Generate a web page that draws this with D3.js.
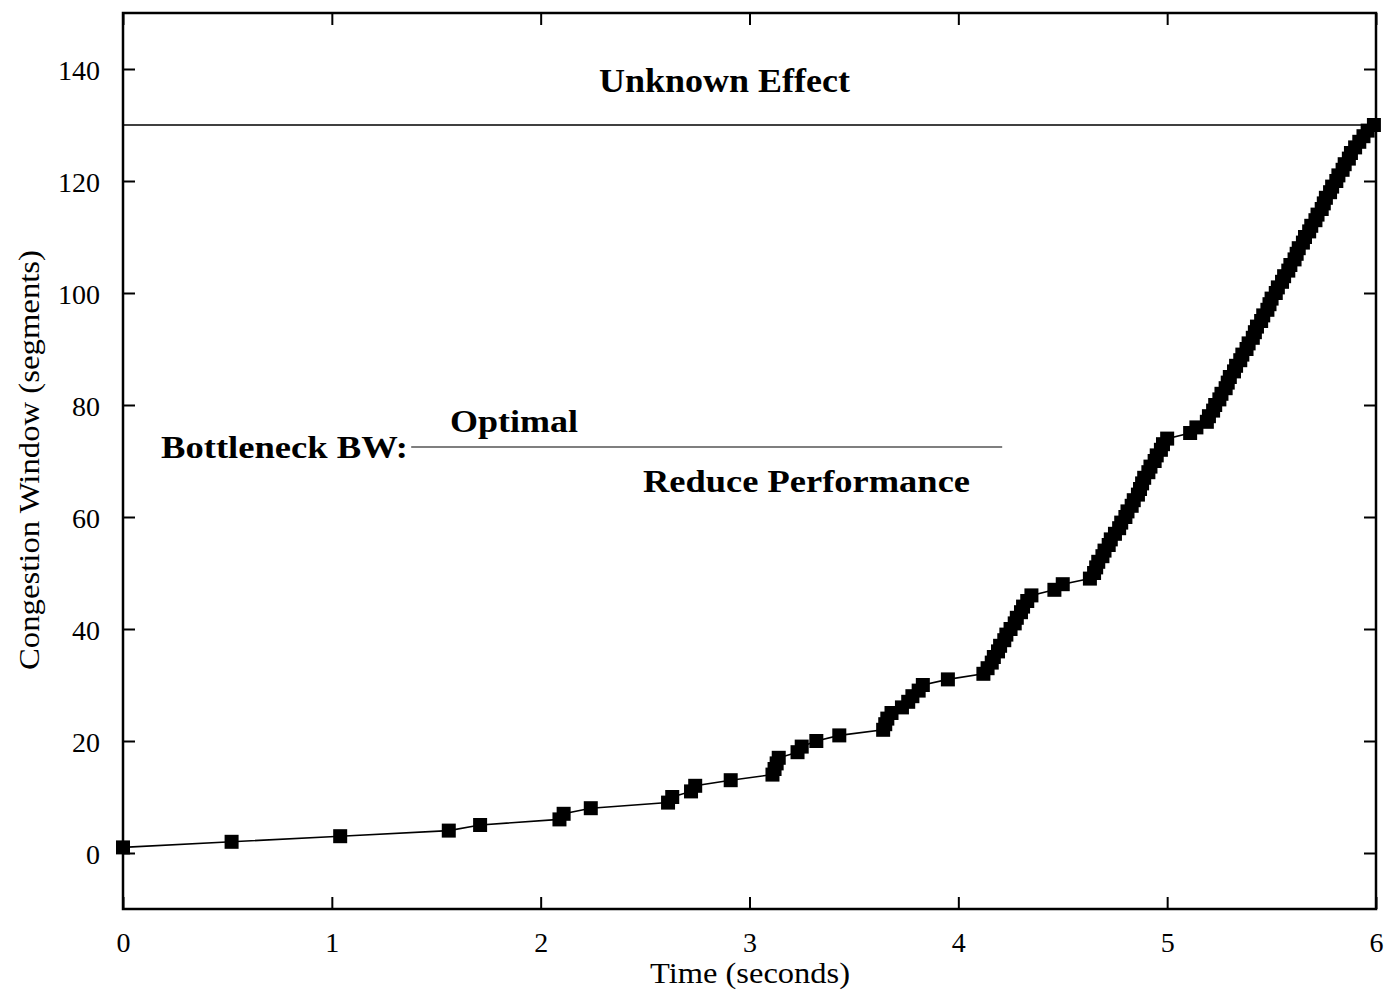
<!DOCTYPE html>
<html>
<head>
<meta charset="utf-8">
<script src="https://cdn.jsdelivr.net/npm/d3@7"></script>
<style>
  html, body { margin: 0; padding: 0; background: #fff; }
  svg { display: block; }
  text { font-family: "Liberation Serif", "Times New Roman", serif; fill: #000; }
</style>
</head>
<body>
<script>
// ---- data ----
const timeSec = [
  0.00, 0.52, 1.04, 1.56, 1.71, 2.09, 2.11, 2.24, 2.61, 2.63,
  2.72, 2.74, 2.91, 3.11, 3.12, 3.13, 3.14, 3.23, 3.25, 3.32,
  3.43, 3.64, 3.65, 3.66, 3.68, 3.73, 3.76, 3.78, 3.81, 3.83,
  3.95, 4.12, 4.14, 4.16, 4.17, 4.19, 4.20, 4.22, 4.23, 4.25,
  4.27, 4.28, 4.30, 4.31, 4.33, 4.35, 4.46, 4.50, 4.63, 4.65,
  4.66, 4.67, 4.69, 4.70, 4.72, 4.73, 4.75, 4.77, 4.78, 4.80,
  4.81, 4.83, 4.84, 4.86, 4.87, 4.88, 4.89, 4.91, 4.92, 4.94,
  4.95, 4.97, 4.98, 5.00, 5.11, 5.14, 5.19, 5.20, 5.22, 5.23,
  5.25, 5.26, 5.28, 5.29, 5.30, 5.32, 5.33, 5.35, 5.36, 5.38,
  5.39, 5.41, 5.42, 5.43, 5.45, 5.46, 5.48, 5.49, 5.50, 5.52,
  5.53, 5.55, 5.56, 5.58, 5.59, 5.61, 5.62, 5.63, 5.65, 5.66,
  5.68, 5.69, 5.71, 5.72, 5.74, 5.75, 5.76, 5.78, 5.79, 5.81,
  5.82, 5.84, 5.85, 5.87, 5.88, 5.90, 5.92, 5.94, 5.96, 5.99
];
const cwnd = [
  1, 2, 3, 4, 5, 6, 7, 8, 9, 10,
  11, 12, 13, 14, 15, 16, 17, 18, 19, 20,
  21, 22, 23, 24, 25, 26, 27, 28, 29, 30,
  31, 32, 33, 34, 35, 36, 37, 38, 39, 40,
  41, 42, 43, 44, 45, 46, 47, 48, 49, 50,
  51, 52, 53, 54, 55, 56, 57, 58, 59, 60,
  61, 62, 63, 64, 65, 66, 67, 68, 69, 70,
  71, 72, 73, 74, 75, 76, 77, 78, 79, 80,
  81, 82, 83, 84, 85, 86, 87, 88, 89, 90,
  91, 92, 93, 94, 95, 96, 97, 98, 99, 100,
  101, 102, 103, 104, 105, 106, 107, 108, 109, 110,
  111, 112, 113, 114, 115, 116, 117, 118, 119, 120,
  121, 122, 123, 124, 125, 126, 127, 128, 129, 130
];
const xTicks = [0, 1, 2, 3, 4, 5, 6];
const yTicks = [0, 20, 40, 60, 80, 100, 120, 140];
const xDomain = [0, 6];
const yDomain = [-10, 150];
const unknownLevel = 130;     // horizontal line "Unknown Effect"
const bottleneckLevel = 72.5; // "Bottleneck BW" divider line
const bottleneckSpan = [1.38, 4.21];
const xTitle = "Time (seconds)";
const yTitle = "Congestion Window (segments)";

// ---- layout ----
const W = 1386, H = 990;
const mLeft = 123, mRight = 1376, mTop = 13, mBottom = 909;

const svg = d3.select("body").append("svg").attr("width", W).attr("height", H);

const x = d3.scaleLinear().domain(xDomain).range([mLeft, mRight]);
const y = d3.scaleLinear().domain(yDomain).range([mBottom, mTop]);

const pts = timeSec.map((t, i) => ({ t, w: cwnd[i] }));

// Axes with inward ticks
const tickLen = 12;
const gx = svg.append("g").attr("transform", `translate(0,${mBottom})`)
  .call(d3.axisBottom(x).tickValues(xTicks).tickSize(-tickLen).tickPadding(23).tickFormat(d3.format("d")));
const gxTop = svg.append("g").attr("transform", `translate(0,${mTop})`)
  .call(d3.axisTop(x).tickValues(xTicks).tickSize(-tickLen).tickFormat(""));
const gy = svg.append("g").attr("transform", `translate(${mLeft},0)`)
  .call(d3.axisLeft(y).tickValues(yTicks).tickSize(-tickLen).tickPadding(23).tickFormat(d3.format("d")));
const gyR = svg.append("g").attr("transform", `translate(${mRight},0)`)
  .call(d3.axisRight(y).tickValues(yTicks).tickSize(-tickLen).tickFormat(""));

[gx, gxTop, gy, gyR].forEach(g => {
  g.select(".domain").remove();
  g.selectAll(".tick line").attr("stroke", "#000").attr("stroke-width", 2);
  g.selectAll(".tick text").attr("font-size", 28).attr("font-family", "'Liberation Serif', serif").attr("fill", "#000");
});
gy.selectAll(".tick text").attr("dy", "0.36em");

// Frame
svg.append("rect").attr("x", mLeft).attr("y", mTop)
  .attr("width", mRight - mLeft).attr("height", mBottom - mTop)
  .attr("fill", "none").attr("stroke", "#000").attr("stroke-width", 2.5);

// Unknown effect line
svg.append("line")
  .attr("x1", x(xDomain[0])).attr("x2", x(xDomain[1]))
  .attr("y1", y(unknownLevel)).attr("y2", y(unknownLevel))
  .attr("stroke", "#000").attr("stroke-width", 1.6);

svg.append("text").attr("x", 599).attr("y", 92)
  .attr("font-size", 33).attr("font-weight", "bold")
  .attr("textLength", 251).attr("lengthAdjust", "spacingAndGlyphs")
  .text("Unknown Effect");

// Bottleneck annotation
svg.append("line")
  .attr("x1", x(bottleneckSpan[0])).attr("x2", x(bottleneckSpan[1]))
  .attr("y1", y(bottleneckLevel)).attr("y2", y(bottleneckLevel))
  .attr("stroke", "#555").attr("stroke-width", 1.6);

svg.append("text").attr("x", 161).attr("y", 458)
  .attr("font-size", 32).attr("font-weight", "bold")
  .attr("textLength", 247).attr("lengthAdjust", "spacingAndGlyphs")
  .text("Bottleneck BW:");
svg.append("text").attr("x", 450).attr("y", 432)
  .attr("font-size", 32).attr("font-weight", "bold")
  .attr("textLength", 128).attr("lengthAdjust", "spacingAndGlyphs")
  .text("Optimal");
svg.append("text").attr("x", 643).attr("y", 492)
  .attr("font-size", 32).attr("font-weight", "bold")
  .attr("textLength", 327).attr("lengthAdjust", "spacingAndGlyphs")
  .text("Reduce Performance");

// Data line
const line = d3.line().x(d => x(d.t)).y(d => y(d.w));
svg.append("path").datum(pts)
  .attr("d", line).attr("fill", "none")
  .attr("stroke", "#000").attr("stroke-width", 1.6);

// Square markers
const sz = 14;
svg.append("g").selectAll("rect").data(pts).join("rect")
  .attr("x", d => x(d.t) - sz / 2).attr("y", d => y(d.w) - sz / 2)
  .attr("width", sz).attr("height", sz).attr("fill", "#000");

// Axis titles
svg.append("text").attr("x", 650).attr("y", 983)
  .attr("font-size", 29)
  .attr("textLength", 200).attr("lengthAdjust", "spacingAndGlyphs")
  .text(xTitle);
svg.append("text")
  .attr("transform", "translate(39,460) rotate(-90)")
  .attr("text-anchor", "middle")
  .attr("font-size", 29)
  .attr("textLength", 420).attr("lengthAdjust", "spacingAndGlyphs")
  .text(yTitle);
</script>
</body>
</html>
